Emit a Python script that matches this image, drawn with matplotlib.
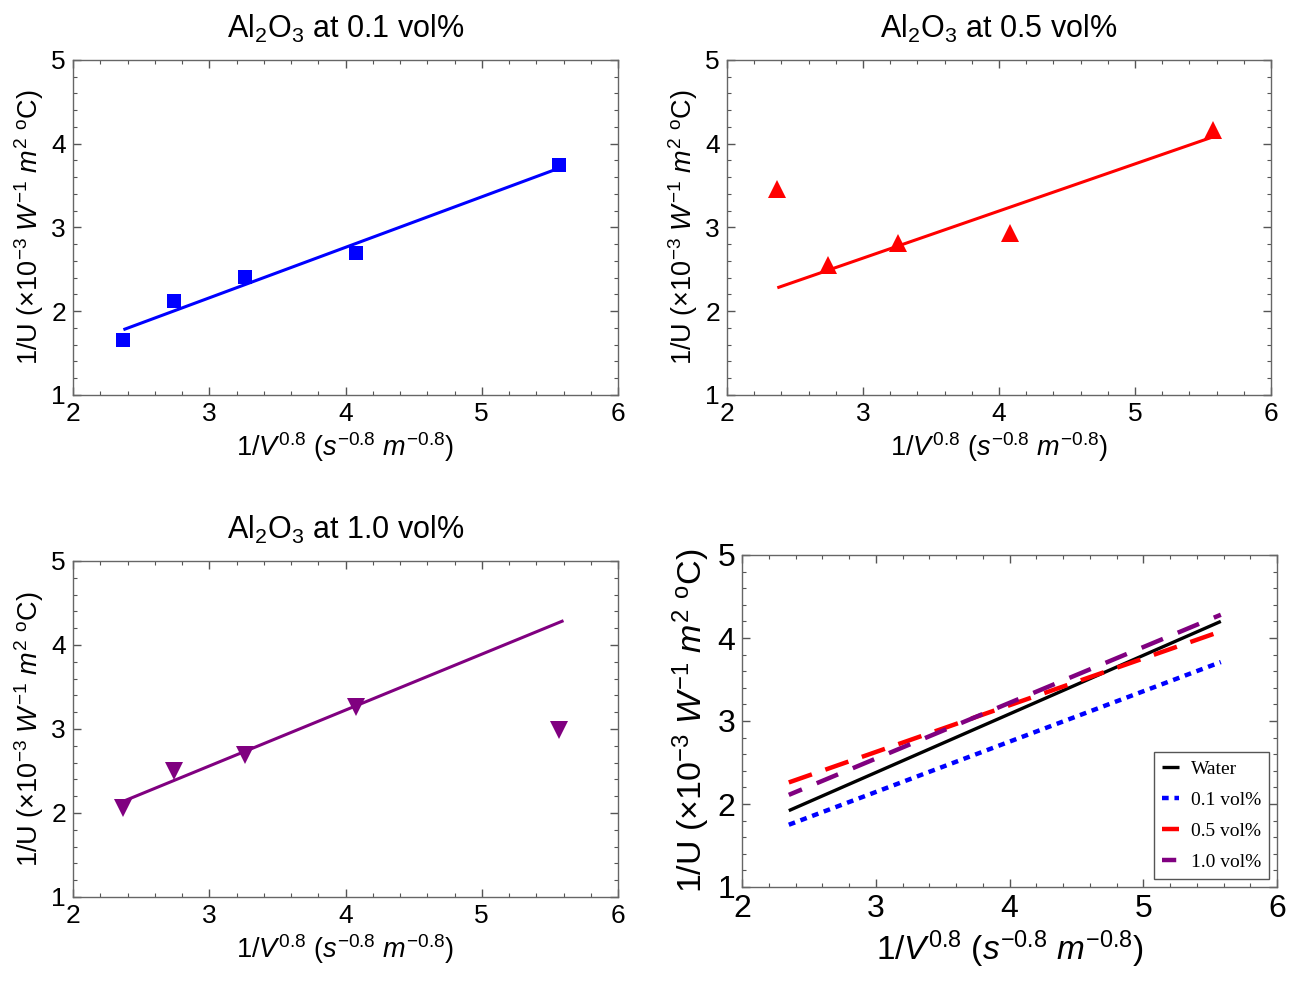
import matplotlib
matplotlib.use("Agg")
import matplotlib.pyplot as plt
from matplotlib.ticker import MultipleLocator

plt.rcParams['font.family'] = ['Liberation Sans', 'DejaVu Sans']
plt.rcParams['mathtext.fontset'] = 'custom'
plt.rcParams['mathtext.rm'] = 'Liberation Sans'
plt.rcParams['mathtext.it'] = 'Liberation Sans:italic'
plt.rcParams['mathtext.bf'] = 'Liberation Sans:bold'

# ---- data ----
x_vals = [2.37, 2.74, 3.26, 4.08, 5.57]
y_01 = [1.66, 2.12, 2.41, 2.70, 3.75]
y_05 = [3.46, 2.55, 2.82, 2.93, 4.17]
y_10 = [2.06, 2.50, 2.69, 3.26, 2.99]

fit01_x = [2.37, 5.57]
fit01_y = [1.78, 3.71]
fit05_x = [2.37, 5.57]
fit05_y = [2.28, 4.08]
fit10_x = [2.37, 5.60]
fit10_y = [2.14, 4.29]

comp_x = [2.35, 5.58]
comp_water = [1.92, 4.20]
comp_01 = [1.75, 3.71]
comp_05 = [2.26, 4.08]
comp_10 = [2.11, 4.28]

titles = [r"Al$_2$O$_3$ at 0.1 vol%", r"Al$_2$O$_3$ at 0.5 vol%", r"Al$_2$O$_3$ at 1.0 vol%"]
legend_labels = ["Water", "0.1 vol%", "0.5 vol%", "1.0 vol%"]

BLUE = (0, 0, 1)
RED = (1, 0, 0)
PURPLE = (0.5, 0, 0.5)

xlab = r"$1/V^{0.8}$ $(s^{-0.8}\ m^{-0.8})$"
ylab = r"1/U $(\times10^{-3}\ W^{-1}\ m^{2}\ {}^{\mathrm{o}}\mathrm{C})$"

W, H = 1297, 983
fig = plt.figure(figsize=(W / 100, H / 100), dpi=100)


def px_axes(l, r, t, b):
    return fig.add_axes([l / W, 1 - b / H, (r - l) / W, (b - t) / H])


def style(ax, fs):
    ax.set_xlim(2, 6)
    ax.set_ylim(1, 5)
    ax.xaxis.set_major_locator(MultipleLocator(1))
    ax.yaxis.set_major_locator(MultipleLocator(1))
    ax.xaxis.set_minor_locator(MultipleLocator(0.2))
    ax.yaxis.set_minor_locator(MultipleLocator(0.2))
    ax.tick_params(which='both', direction='in', top=True, right=True,
                   color='#555555', labelsize=fs)
    ax.tick_params(which='major', length=6, width=1)
    ax.tick_params(which='minor', length=3, width=0.8)
    ax.tick_params(axis='x', pad=5)
    ax.tick_params(axis='y', pad=5)
    for s in ax.spines.values():
        s.set_color('#666666')
        s.set_linewidth(1.0)


ax1 = px_axes(73, 618, 60, 395)
ax2 = px_axes(727, 1271, 60, 395)
ax3 = px_axes(73, 618, 561, 897)
ax4 = px_axes(742, 1277, 555, 887)

panels = [
    (ax1, y_01, fit01_x, fit01_y, BLUE, 's', 10.5),
    (ax2, y_05, fit05_x, fit05_y, RED, '^', 13.5),
    (ax3, y_10, fit10_x, fit10_y, PURPLE, 'v', 13.5),
]
for i, (ax, yv, fx, fy, c, m, ms) in enumerate(panels):
    style(ax, 19)
    ax.plot(fx, fy, color=c, lw=2.2, solid_capstyle='butt')
    ax.plot(x_vals, yv, linestyle='none', marker=m, markersize=ms,
            color=c, markeredgewidth=0)
    ax.set_title(titles[i], fontsize=22, pad=16)
    ax.set_xlabel(xlab, fontsize=19.5, labelpad=3)
    ax.set_ylabel(ylab, fontsize=19.5, labelpad=4)

style(ax4, 23)
ax4.plot(comp_x, comp_water, color='black', lw=2.4, label=legend_labels[0],
         solid_capstyle='butt')
ax4.plot(comp_x, comp_01, color=BLUE, lw=3.2, linestyle=(0, (1.5, 1.3)),
         dash_capstyle='butt', label=legend_labels[1])
ax4.plot(comp_x, comp_05, color=RED, lw=3.2, linestyle=(0, (5.5, 3.2)),
         dash_capstyle='butt', label=legend_labels[2])
ax4.plot(comp_x, comp_10, color=PURPLE, lw=3.2, linestyle=(2, (5.2, 3.6)),
         dash_capstyle='butt', label=legend_labels[3])
ax4.set_xlabel(xlab, fontsize=24, labelpad=3)
ax4.set_ylabel(ylab, fontsize=24.5, labelpad=4)
leg = ax4.legend(loc='lower right', bbox_to_anchor=(0.985, 0.024),
                 prop={'family': 'Liberation Serif', 'size': 14},
                 frameon=True, fancybox=False, edgecolor='#555555',
                 framealpha=1, handlelength=0.9, handletextpad=0.6,
                 labelspacing=0.7, borderpad=0.4, borderaxespad=0)
leg.get_frame().set_linewidth(1.0)

fig.savefig("out.png", dpi=100)
